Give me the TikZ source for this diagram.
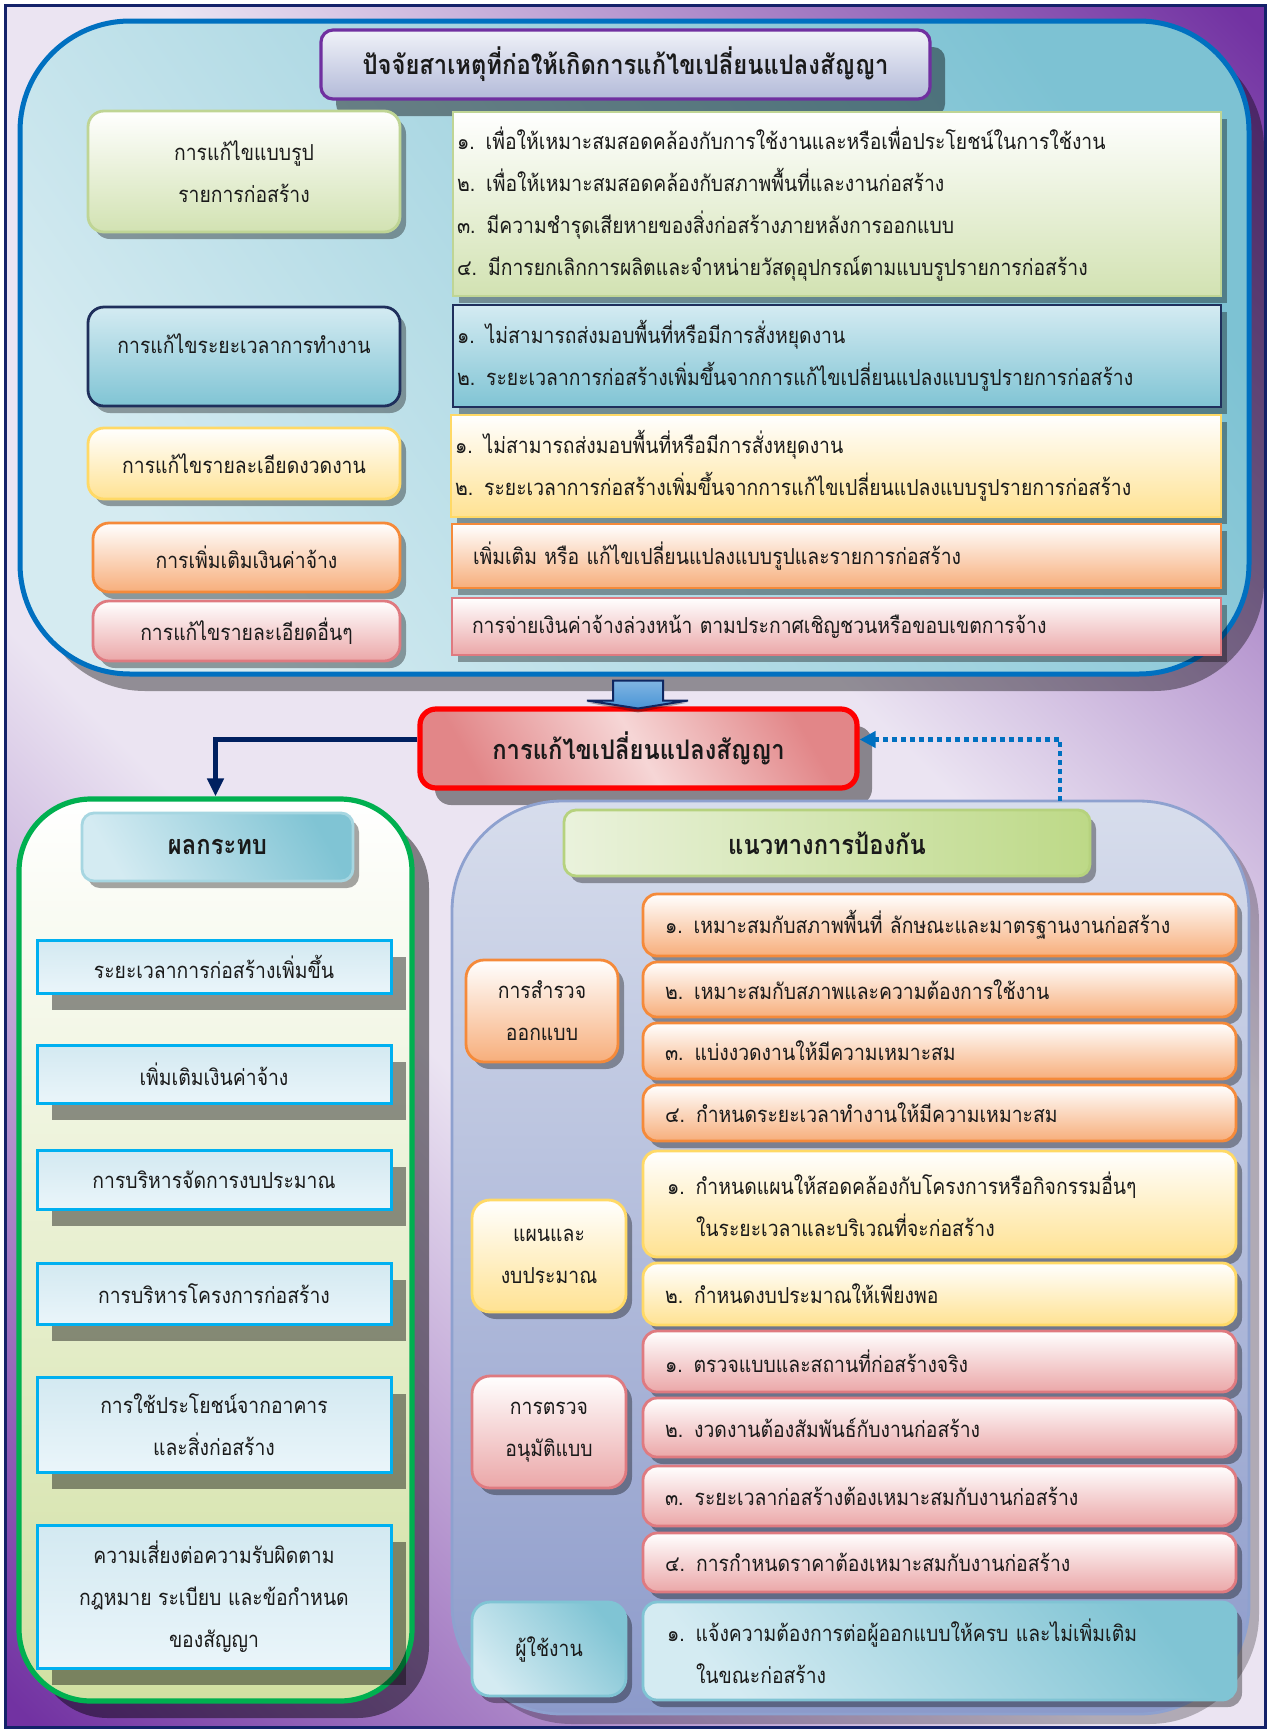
\documentclass[tikz,border=0pt]{standalone}
\usepackage{fontspec}
\setmainfont[Script=Thai, FakeStretch=0.88]{Loma}
\usetikzlibrary{shadows,arrows.meta,calc}
\definecolor{bgl}{HTML}{EBE4F2}
\definecolor{bgp}{HTML}{7232A2}
\definecolor{frameC}{HTML}{14226A}
\definecolor{topFa}{HTML}{D5EBF1}
\definecolor{topFb}{HTML}{7DC2D3}
\definecolor{topB}{HTML}{0070C0}
\definecolor{titleB}{HTML}{7030A0}
\definecolor{titleFa}{HTML}{F0F2F8}
\definecolor{titleFb}{HTML}{B3BAD9}
\definecolor{grnB}{HTML}{BFD595}
\definecolor{grnF}{HTML}{D2E2B2}
\definecolor{navyB}{HTML}{1F2F5C}
\definecolor{bluFa}{HTML}{D4EBF2}
\definecolor{bluFb}{HTML}{80C4D4}
\definecolor{yelB}{HTML}{FFD966}
\definecolor{yelF}{HTML}{FFE292}
\definecolor{orgB}{HTML}{F58A3A}
\definecolor{orgF}{HTML}{F7AE7B}
\definecolor{pnkB}{HTML}{DF7A80}
\definecolor{pnkF}{HTML}{EBA7A8}
\definecolor{redB}{HTML}{FF0000}
\definecolor{redFa}{HTML}{F6D6D6}
\definecolor{redFb}{HTML}{E28688}
\definecolor{lpB}{HTML}{00B050}
\definecolor{lpF}{HTML}{D1E0A2}
\definecolor{cyanB}{HTML}{00B0F0}
\definecolor{cyFa}{HTML}{D3E9F1}
\definecolor{cyFb}{HTML}{EAF5FA}
\definecolor{rpB}{HTML}{8EA1CF}
\definecolor{rpFa}{HTML}{D7DDEC}
\definecolor{rpFb}{HTML}{8C9ACA}
\definecolor{hdgFa}{HTML}{EAF2DC}
\definecolor{hdgFb}{HTML}{BDD987}
\definecolor{hdgB}{HTML}{B6D27E}
\definecolor{arrowF}{HTML}{4A95D6}
\definecolor{arrowB}{HTML}{0F2660}
\definecolor{dashC}{HTML}{0070C0}
\definecolor{connC}{HTML}{002060}
\definecolor{txt}{HTML}{1A1A1A}
\pgfdeclareverticalshading{bgsh}{100bp}{color(0bp)=(bgp); color(20bp)=(bgp); color(42bp)=(bgl); color(58bp)=(bgl); color(80bp)=(bgp); color(100bp)=(bgp)}
\newcommand\cbox[7]{%
  \pgfmathsetmacro\bcx{(#3+#5)/2}\pgfmathsetmacro\bcy{(#4+#6)/2}%
  \pgfmathsetmacro\bw{(#5-#3)/2}\pgfmathsetmacro\bh{(#6-#4)/2}%
  \node[#2, minimum width=\bw pt, minimum height=\bh pt] (#1) at (\bcx,\bcy) {#7};}
\newcommand\lbox[8]{%
  \pgfmathsetmacro\bcx{(#3+#5)/2}\pgfmathsetmacro\bcy{(#4+#6)/2}%
  \pgfmathsetmacro\bw{(#5-#3)/2}\pgfmathsetmacro\bh{(#6-#4)/2}%
  \pgfmathsetmacro\ix{#7/2}\pgfmathsetmacro\tw{(#5-#3-2*#7)/2}%
  \node[#2, minimum width=\bw pt, minimum height=\bh pt, inner xsep=\ix pt, text width=\tw pt, align=left] (#1) at (\bcx,\bcy) {#8};}
\begin{document}
\begin{tikzpicture}[x=0.5pt,y=-0.5pt,
  every node/.style={text=txt, inner sep=0pt},
  font=\fontsize{11pt}{21pt}\selectfont,
  hfont/.style={font=\fontsize{13.5pt}{16pt}\selectfont\bfseries},
  shbig/.style={drop shadow={shadow xshift=7.5pt,shadow yshift=-8.5pt,fill=black,opacity=.38}},
  shmid/.style={drop shadow={shadow xshift=7.5pt,shadow yshift=-8.5pt,fill=black,opacity=.42}},
  shsm/.style={drop shadow={shadow xshift=3pt,shadow yshift=-3.5pt,fill=black,opacity=.35}},
  lbx/.style={draw, line width=1.4pt, rounded corners=8pt, align=center, shsm},
  rbx/.style={draw, line width=1.4pt, shsm},
  ibx/.style={draw, line width=1.4pt, rounded corners=7pt, shsm},
  cbx/.style={draw, line width=1.4pt, rounded corners=9pt, align=center, shsm},
  gbx/.style={draw=cyanB, line width=1.5pt, top color=cyFa, bottom color=cyFb, align=center, shmid},
  grnS/.style={draw=grnB, top color=white, bottom color=grnF},
  bluS/.style={draw=navyB, top color=bluFa, bottom color=bluFb},
  yelS/.style={draw=yelB, top color=white, bottom color=yelF},
  orgS/.style={draw=orgB, top color=white, bottom color=orgF},
  pnkS/.style={draw=pnkB, top color=white, bottom color=pnkF},
  tealS/.style={draw=bluFb, top color=bluFb, bottom color=bluFa, shading angle=-50}]
\useasboundingbox (0,0) rectangle (1269,1730);
\fill[white] (0,0) rectangle (1269,1730);
\begin{scope}
  \clip (5,5) rectangle (1265,1727);
  \shade[shading=bgsh, shading angle=-45] (-230.5,1) rectangle (1499.5,1731);
\end{scope}
\draw[frameC,line width=1.5pt] (5,5) rectangle (1265,1727);

% ---------- top panel ----------
\cbox{top}{draw=topB, line width=2.5pt, rounded corners=55pt, top color=topFb, bottom color=topFa, shading angle=-55, shbig}{20}{21}{1249}{674}{}
\cbox{title}{draw=titleB, line width=1.6pt, rounded corners=6pt, top color=titleFa, bottom color=titleFb, shmid, hfont}{321}{30}{930}{99}{ปัจจัยสาเหตุที่ก่อให้เกิดการแก้ไขเปลี่ยนแปลงสัญญา}

\cbox{l1}{lbx, grnS}{88}{111}{400}{232}{การแก้ไขแบบรูป\\รายการก่อสร้าง}
\cbox{l2}{lbx, bluS}{88}{307}{400}{406}{\raisebox{6.5pt}[\height][\depth]{การแก้ไขระยะเวลาการทำงาน}}
\cbox{l3}{lbx, yelS}{88}{428}{400}{499}{การแก้ไขรายละเอียดงวดงาน}
\cbox{l4}{lbx, orgS}{93}{523}{400}{592}{การเพิ่มเติมเงินค่าจ้าง}
\cbox{l5}{lbx, pnkS}{93}{601}{400}{661}{การแก้ไขรายละเอียดอื่นๆ}

\lbox{r1}{rbx, grnS}{453}{112}{1221}{296}{4}{๑. เพื่อให้เหมาะสมสอดคล้องกับการใช้งานและหรือเพื่อประโยชน์ในการใช้งาน\\๒. เพื่อให้เหมาะสมสอดคล้องกับสภาพพื้นที่และงานก่อสร้าง\\๓. มีความชำรุดเสียหายของสิ่งก่อสร้างภายหลังการออกแบบ\\๔. มีการยกเลิกการผลิตและจำหน่ายวัสดุอุปกรณ์ตามแบบรูปรายการก่อสร้าง}
\lbox{r2}{rbx, bluS}{453}{305}{1221}{407}{4}{๑. ไม่สามารถส่งมอบพื้นที่หรือมีการสั่งหยุดงาน\\๒. ระยะเวลาการก่อสร้างเพิ่มขึ้นจากการแก้ไขเปลี่ยนแปลงแบบรูปรายการก่อสร้าง}
\lbox{r3}{rbx, yelS}{451}{415}{1221}{517}{4}{๑. ไม่สามารถส่งมอบพื้นที่หรือมีการสั่งหยุดงาน\\๒. ระยะเวลาการก่อสร้างเพิ่มขึ้นจากการแก้ไขเปลี่ยนแปลงแบบรูปรายการก่อสร้าง}
\lbox{r4}{rbx, orgS}{452}{524}{1221}{588}{21}{เพิ่มเติม หรือ แก้ไขเปลี่ยนแปลงแบบรูปและรายการก่อสร้าง}
\lbox{r5}{rbx, pnkS}{452}{598}{1221}{655}{20}{การจ่ายเงินค่าจ้างล่วงหน้า ตามประกาศเชิญชวนหรือขอบเขตการจ้าง}

% ---------- centre ----------
\cbox{center}{draw=redB, line width=2.6pt, rounded corners=8pt, top color=redFb, bottom color=redFb, middle color=redFa, shading angle=-60, shmid, hfont}{420}{709}{857}{788}{การแก้ไขเปลี่ยนแปลงสัญญา}

% block arrow from top panel to centre
\path (top.south) ++(3.5,4) coordinate (ba);
\fill[black,opacity=.3] ($(ba)+(-51,22)$) -- ($(ba)+(50,22)$) -- ($(ba)+(0,32)$) -- cycle;
\draw[arrowB, line width=1pt, top color=arrowF!70!white, bottom color=arrowF]
  ($(ba)+(-25,0)$) -- ($(ba)+(25,0)$) -- ($(ba)+(25,20)$) -- ($(ba)+(50,20)$)
  -- ($(ba)+(0,28)$) -- ($(ba)+(-51,20)$) -- ($(ba)+(-25,20)$) -- cycle;

% ---------- left panel ----------
\cbox{lp}{draw=lpB, line width=2.6pt, rounded corners=36pt, top color=white, bottom color=lpF, drop shadow={shadow xshift=8.5pt,shadow yshift=-8.5pt,fill=black,opacity=.45}}{19}{799}{412}{1701}{}
\cbox{lph}{draw=bluFb!70!white, line width=1.4pt, rounded corners=6pt, top color=bluFb, bottom color=bluFa, shading angle=-60, shsm, hfont}{82}{813}{353}{881}{ผลกระทบ}
\cbox{g1}{gbx}{37}{940}{391}{993}{ระยะเวลาการก่อสร้างเพิ่มขึ้น}
\cbox{g2}{gbx}{37}{1045}{391}{1103}{เพิ่มเติมเงินค่าจ้าง}
\cbox{g3}{gbx}{37}{1150}{391}{1209}{การบริหารจัดการงบประมาณ}
\cbox{g4}{gbx}{37}{1263}{391}{1324}{การบริหารโครงการก่อสร้าง}
\cbox{g5}{gbx}{37}{1377}{391}{1472}{การใช้ประโยชน์จากอาคาร\\และสิ่งก่อสร้าง}
\cbox{g6}{gbx}{37}{1525}{391}{1668}{ความเสี่ยงต่อความรับผิดตาม\\กฎหมาย ระเบียบ และข้อกำหนด\\ของสัญญา}

% ---------- right panel ----------
\cbox{rp}{draw=rpB, line width=1.4pt, rounded corners=55pt, top color=rpFa, bottom color=rpFb, drop shadow={shadow xshift=5pt,shadow yshift=-5pt,fill=black,opacity=.25}}{452}{801}{1249}{1714}{}
\cbox{rph}{draw=hdgB, line width=1.4pt, rounded corners=6pt, left color=hdgFa, right color=hdgFb, shsm, hfont}{564}{810}{1090}{876}{แนวทางการป้องกัน}

\cbox{c1}{cbx, orgS}{466}{960}{618}{1062}{การสำรวจ\\ออกแบบ}
\cbox{c2}{cbx, yelS}{472}{1200}{626}{1312}{แผนและ\\งบประมาณ}
\cbox{c3}{cbx, pnkS}{472}{1376}{626}{1488}{การตรวจ\\อนุมัติแบบ}
\cbox{c4}{cbx, tealS}{472}{1602}{626}{1696}{ผู้ใช้งาน}

\lbox{o1}{ibx, orgS}{643}{894}{1236}{956}{22}{๑. เหมาะสมกับสภาพพื้นที่ ลักษณะและมาตรฐานงานก่อสร้าง}
\lbox{o2}{ibx, orgS}{643}{962}{1236}{1017}{22}{๒. เหมาะสมกับสภาพและความต้องการใช้งาน}
\lbox{o3}{ibx, orgS}{643}{1023}{1236}{1079}{22}{๓. แบ่งงวดงานให้มีความเหมาะสม}
\lbox{o4}{ibx, orgS}{643}{1085}{1236}{1141}{22}{๔. กำหนดระยะเวลาทำงานให้มีความเหมาะสม}
\lbox{y1}{ibx, yelS}{643}{1151}{1236}{1257}{24}{๑. กำหนดแผนให้สอดคล้องกับโครงการหรือกิจกรรมอื่นๆ\\\hspace*{14.5pt}ในระยะเวลาและบริเวณที่จะก่อสร้าง}
\lbox{y2}{ibx, yelS}{643}{1263}{1236}{1325}{22}{๒. กำหนดงบประมาณให้เพียงพอ}
\lbox{p1}{ibx, pnkS}{643}{1331}{1236}{1392}{22}{๑. ตรวจแบบและสถานที่ก่อสร้างจริง}
\lbox{p2}{ibx, pnkS}{643}{1398}{1236}{1457}{22}{๒. งวดงานต้องสัมพันธ์กับงานก่อสร้าง}
\lbox{p3}{ibx, pnkS}{643}{1466}{1236}{1526}{22}{๓. ระยะเวลาก่อสร้างต้องเหมาะสมกับงานก่อสร้าง}
\lbox{p4}{ibx, pnkS}{643}{1533}{1236}{1592}{22}{๔. การกำหนดราคาต้องเหมาะสมกับงานก่อสร้าง}
\lbox{u1}{ibx, tealS}{643}{1602}{1236}{1700}{24}{๑. แจ้งความต้องการต่อผู้ออกแบบให้ครบ และไม่เพิ่มเติม\\\hspace*{14.5pt}ในขณะก่อสร้าง}

% ---------- connectors ----------
\draw[connC, line width=2.2pt, -{Triangle[length=9pt,width=8pt]}] ([yshift=4.5pt]center.west) -| (lp.north);
\coordinate (dst) at (1060,801);
\draw[dashC, line width=2.2pt, dash pattern=on 2.5pt off 2pt, -{Triangle[length=8pt,width=8pt]}] (dst) |- ([yshift=4.5pt]center.east);
\end{tikzpicture}
\end{document}
